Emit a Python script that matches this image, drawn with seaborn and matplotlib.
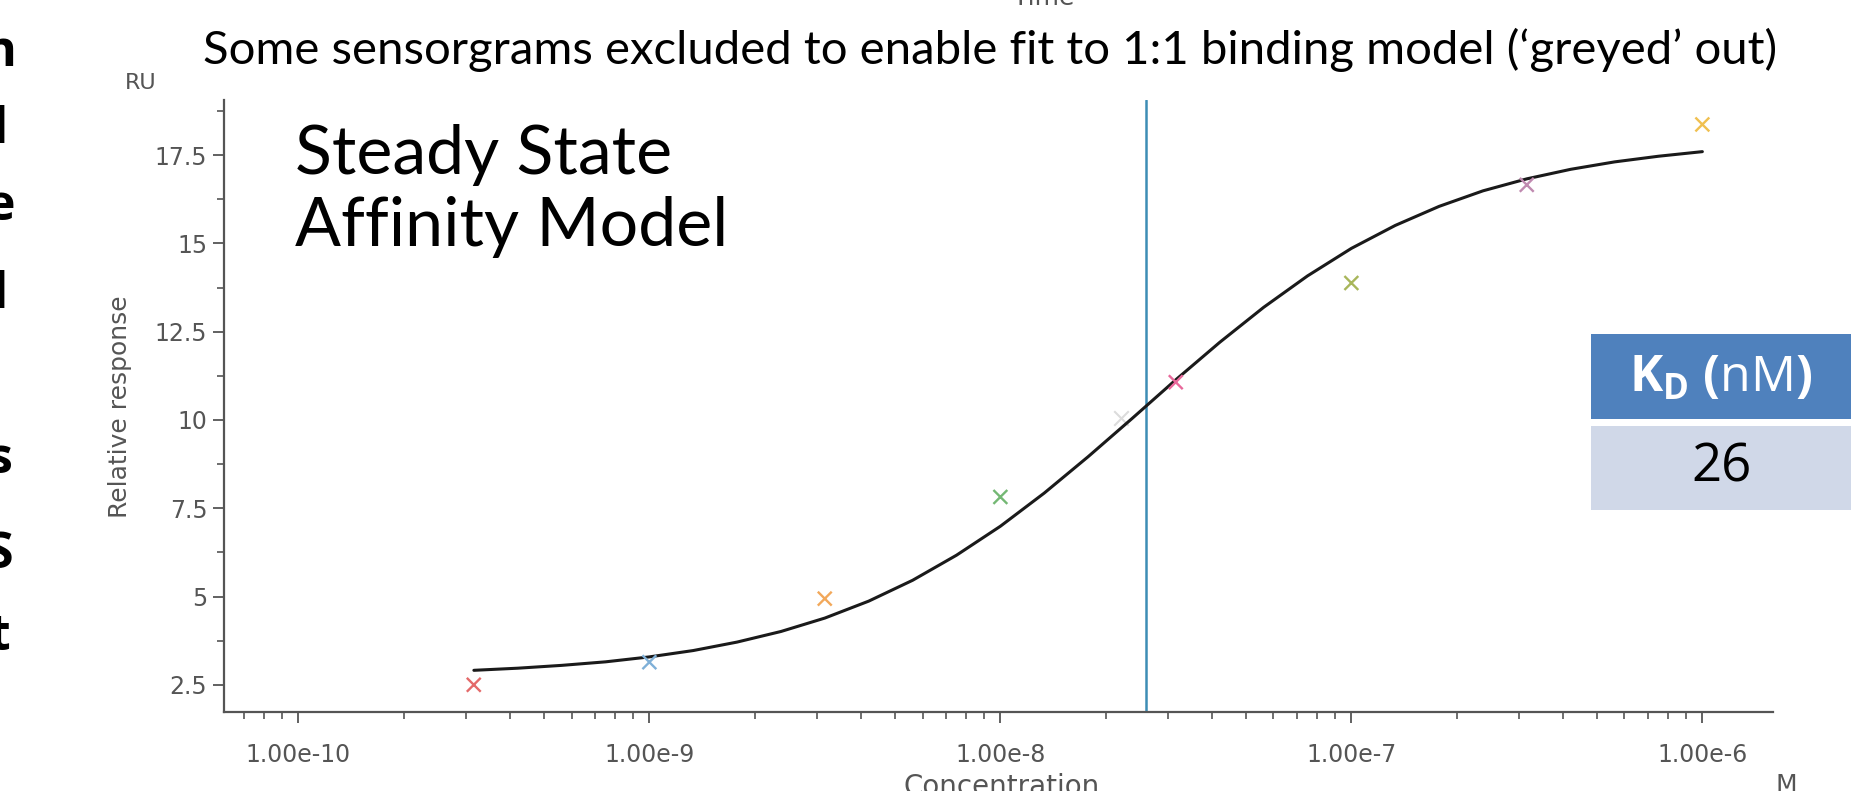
import numpy as np
import pandas as pd
import seaborn as sns
import matplotlib.pyplot as plt
from matplotlib.patches import Rectangle
from matplotlib.ticker import LogLocator, NullFormatter, MultipleLocator

# =========================
# Data
# =========================
conc = [3.16e-10, 1.0e-9, 3.16e-9, 1.0e-8, 3.16e-8, 1.0e-7, 3.16e-7, 1.0e-6]
resp = [2.50, 3.14, 4.94, 7.82, 11.07, 13.88, 16.66, 18.37]
cycle = ["c1", "c2", "c3", "c4", "c5", "c6", "c7", "c8"]
point_colors = ["#e46a6a", "#7fb0d8", "#f2a85a", "#74b874",
                "#e8689a", "#a8b65a", "#c08ab0", "#f0c050"]

# excluded ('greyed out') point
excl_conc = [2.2e-8]
excl_resp = [10.07]

# steady state affinity fit
fit_log_conc = [-9.5, -9.375, -9.25, -9.125, -9.0, -8.875, -8.75, -8.625,
                -8.5, -8.375, -8.25, -8.125, -8.0, -7.875, -7.75, -7.625,
                -7.5, -7.375, -7.25, -7.125, -7.0, -6.875, -6.75, -6.625,
                -6.5, -6.375, -6.25, -6.125, -6.0]
fit_resp = [2.91, 2.97, 3.05, 3.15, 3.29, 3.47, 3.71, 4.01,
            4.39, 4.87, 5.46, 6.17, 6.99, 7.93, 8.96, 10.04,
            11.14, 12.20, 13.19, 14.08, 14.86, 15.51, 16.05, 16.49,
            16.83, 17.10, 17.31, 17.47, 17.60]

kd = 2.6e-8
kd_nm = "26"

x_ticks = [1e-10, 1e-9, 1e-8, 1e-7, 1e-6]
x_tick_labels = ["1.00e-10", "1.00e-9", "1.00e-8", "1.00e-7", "1.00e-6"]
y_ticks = [2.5, 5, 7.5, 10, 12.5, 15, 17.5]
y_tick_labels = ["2.5", "5", "7.5", "10", "12.5", "15", "17.5"]

df = pd.DataFrame({"conc": conc, "resp": resp, "cycle": cycle})
fit_df = pd.DataFrame({"conc": 10.0 ** np.array(fit_log_conc), "resp": fit_resp})
excl_df = pd.DataFrame({"conc": excl_conc, "resp": excl_resp})

# =========================
# Style
# =========================
sns.set_style("ticks")
plt.rcParams["font.family"] = ["Lato", "DejaVu Sans"]
plt.rcParams["mathtext.fontset"] = "custom"
plt.rcParams["mathtext.rm"] = "Open Sans"
plt.rcParams["mathtext.bf"] = "Open Sans:bold"
grey = "#555555"
axfont = ["DejaVu Sans"]

fig = plt.figure(figsize=(18.51, 7.91), dpi=100)
ax = fig.add_axes([0.121, 0.0999, 0.837, 0.774])
ax.set_xscale("log")

# =========================
# Plot
# =========================
sns.scatterplot(data=excl_df, x="conc", y="resp", marker="x", s=110,
                linewidth=1.5, color="#dcdcdc", ax=ax, legend=False, zorder=2)
sns.lineplot(data=fit_df, x="conc", y="resp", color="#1a1a1a", linewidth=2.2,
             ax=ax, zorder=3)
sns.scatterplot(data=df, x="conc", y="resp", hue="cycle", palette=point_colors,
                marker="x", s=100, linewidth=1.7, ax=ax, legend=False, zorder=4)
ax.axvline(kd, color="#3d8db5", linewidth=1.8, zorder=1)

ax.set_xlim(10 ** -10.212, 10 ** -5.798)
ax.set_ylim(1.73, 19.07)

ax.set_xticks(x_ticks)
ax.set_xticklabels(x_tick_labels, family=axfont)
ax.xaxis.set_minor_locator(LogLocator(base=10, subs=np.arange(2, 10) * 1.0, numticks=50))
ax.xaxis.set_minor_formatter(NullFormatter())
ax.set_yticks(y_ticks)
ax.set_yticklabels(y_tick_labels, family=axfont)
ax.yaxis.set_minor_locator(MultipleLocator(1.25))

ax.tick_params(which="major", length=8, width=1.3, color=grey, labelcolor=grey,
               labelsize=17)
ax.tick_params(axis="x", which="major", pad=14)
ax.tick_params(axis="y", which="major", pad=4)
ax.tick_params(which="minor", length=5, width=1.2, color=grey)
ax.set_xlabel("")
ax.set_ylabel("")
sns.despine(ax=ax)
for s in ["left", "bottom"]:
    ax.spines[s].set_color(grey)
    ax.spines[s].set_linewidth(1.6)

# axis texts as in the instrument software export
fig.text(141 / 1851, 1 - 83 / 791, "RU", color=grey, fontsize=16,
         family=axfont, ha="center", va="center")
fig.text(120 / 1851, 1 - 407 / 791, "Relative response", color=grey,
         fontsize=18, family=axfont, rotation=90, ha="center", va="center")
fig.text(1002 / 1851, 1 - 773 / 791, "Concentration", color=grey,
         fontsize=20, family=axfont, ha="center", va="top")
fig.text(1786 / 1851, 1 - 773 / 791, "M", color=grey, fontsize=18,
         family=axfont, ha="center", va="top")
fig.text(1044 / 1851, 1 - 10 / 791, "Time", color=grey, fontsize=18,
         family=axfont, ha="center", va="bottom")

# titles
fig.text(0.535, 1 - 50 / 791,
         "Some sensorgrams excluded to enable fit to 1:1 binding model (\u2018greyed\u2019 out)",
         fontsize=34, fontweight="normal", color="black", ha="center", va="center")
fig.text(295 / 1851, 1 - 124 / 791, "Steady State\nAffinity Model",
         fontsize=49, fontweight="normal", color="black", ha="left", va="top",
         linespacing=1.19)

# KD table
fig.add_artist(Rectangle((1591 / 1851, 1 - 419 / 791), 260 / 1851, 85 / 791,
                         transform=fig.transFigure, facecolor="#4f81bd",
                         edgecolor="none"))
fig.add_artist(Rectangle((1591 / 1851, 1 - 510 / 791), 260 / 1851, 84 / 791,
                         transform=fig.transFigure, facecolor="#d0d8e8",
                         edgecolor="none"))
fig.text(1721 / 1851, 1 - 379 / 791, r"$\mathbf{K_D}$ $\mathbf{(}$nM$\mathbf{)}$",
         color="white", fontsize=36, family=["Open Sans", "DejaVu Sans"],
         ha="center", va="center")
fig.text(1721 / 1851, 1 - 468 / 791, kd_nm, color="black", fontsize=38,
         family=["Open Sans", "DejaVu Sans"], ha="center", va="center")

# slide text cut off at the left edge
left_letters = ["n", "l", "e", "l", "s", "S", "t"]
left_y = [53, 130, 207, 295, 460, 555, 637]
for letter, yy in zip(left_letters, left_y):
    fig.text(0.0, 1 - yy / 791, letter, fontsize=36, fontweight="bold",
             color="black", ha="center", va="center",
             family=["Open Sans", "DejaVu Sans"])

fig.savefig("out.png", dpi=100, facecolor="white")
